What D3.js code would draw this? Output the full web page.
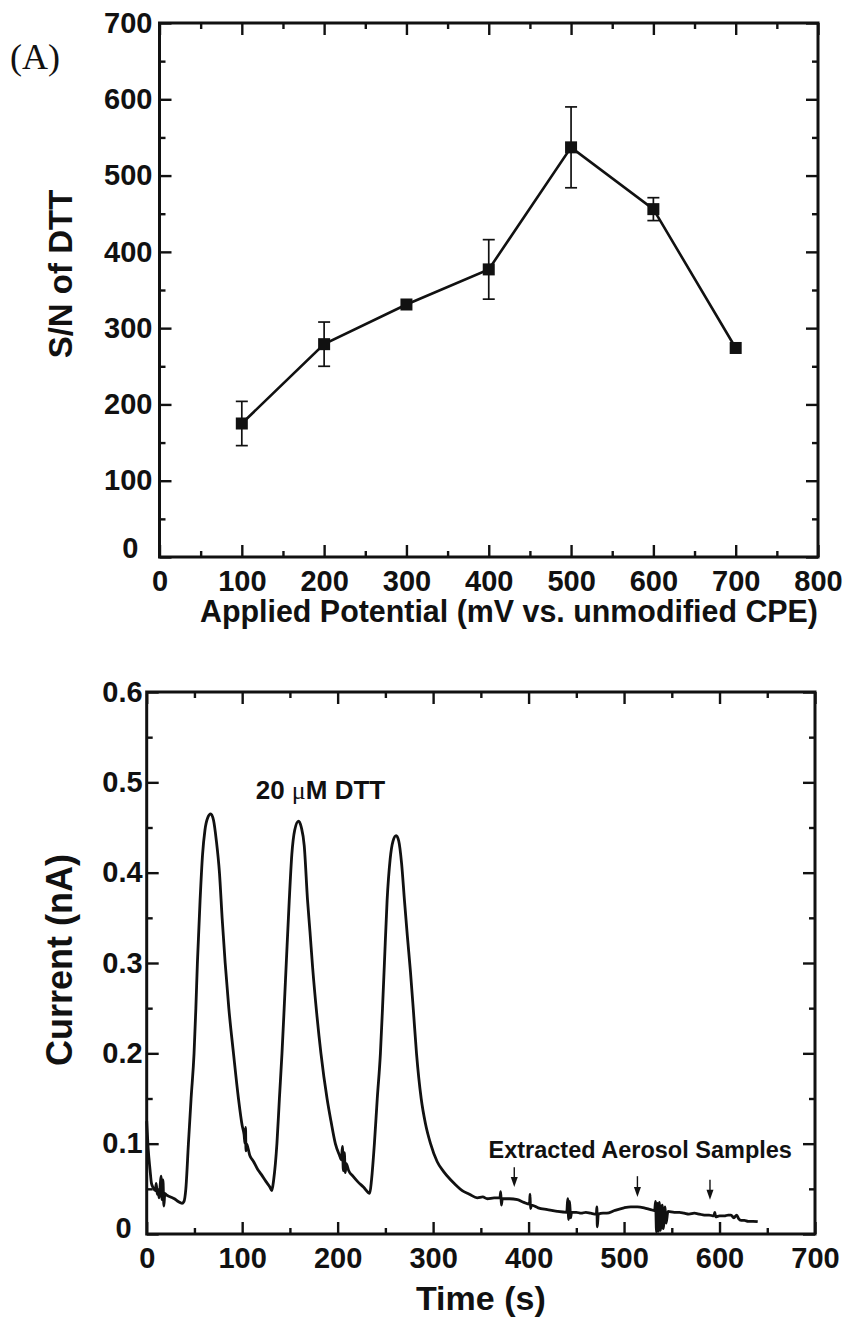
<!DOCTYPE html>
<html>
<head>
<meta charset="utf-8">
<script src="https://cdn.jsdelivr.net/npm/d3@7"></script>
<style>
  body { margin: 0; background: #fff; }
  svg text { font-family: "Liberation Sans", Arial, sans-serif; font-weight: bold; fill: #111; }
  .tick text { font-size: 29px; }
  .tick line { stroke: #111; stroke-width: 2.4px; }
</style>
</head>
<body>
<svg id="chart" width="848" height="1320"></svg>
<script>
// ---- panel A: S/N vs applied potential
const potentials = [100, 200, 300, 400, 500, 600, 700];
const snValues   = [175, 279, 331, 377, 537, 456, 274];
const snErrors   = [29, 29, 3, 39, 53, 15, 3];
const potentialTicks = [0, 100, 200, 300, 400, 500, 600, 700, 800];
const potentialMinor = [50, 150, 250, 350, 450, 550, 650, 750];
const snTicks = [0, 100, 200, 300, 400, 500, 600, 700];
const snMinor = [50, 150, 250, 350, 450, 550, 650];

// ---- panel B: amperometric trace (time s, current nA)
const trace = [
  [0, 0.125], [1.5, 0.095], [3.5, 0.071], [5, 0.056], [7, 0.051], [9, 0.048],
  [10, 0.056], [11, 0.044], [12, 0.049], [13, 0.040], [14, 0.052], [15, 0.064],
  [16, 0.038], [17, 0.060], [18, 0.031], [19, 0.045], [21, 0.043], [25, 0.041],
  [29, 0.039], [33, 0.036], [37, 0.034], [39, 0.036], [41, 0.050], [43.7, 0.10],
  [46.5, 0.15], [49.6, 0.20], [51.5, 0.25], [53.1, 0.30], [55.9, 0.369], [58.5, 0.42],
  [61, 0.447], [64, 0.461], [67, 0.465], [70, 0.458], [73, 0.435], [76.2, 0.40],
  [79, 0.35], [82.2, 0.30], [86, 0.25], [90.9, 0.20], [96.1, 0.15], [100, 0.12],
  [102, 0.11], [103, 0.10], [103.5, 0.118], [104, 0.092], [104.5, 0.10], [108, 0.087],
  [112, 0.080], [116, 0.072], [120, 0.066], [125, 0.058], [129, 0.052], [131, 0.048],
  [133, 0.060], [136.4, 0.10], [139, 0.15], [141.7, 0.20], [144, 0.25], [146.2, 0.30],
  [149.3, 0.369], [152, 0.42], [155, 0.447], [159, 0.457], [162, 0.45], [165, 0.43],
  [168.5, 0.369], [171, 0.335], [173.8, 0.295], [178, 0.245], [182.5, 0.20], [188.9, 0.15],
  [193, 0.125], [197.6, 0.10], [202, 0.087], [204, 0.082], [205, 0.097], [206, 0.070],
  [207, 0.090], [208, 0.068], [209, 0.078], [211.6, 0.070], [216, 0.064], [221, 0.058],
  [227, 0.052], [233.6, 0.045], [235.5, 0.060], [238.5, 0.10], [241.5, 0.15], [244.8, 0.20],
  [247, 0.25], [249, 0.30], [251.8, 0.369], [255, 0.415], [258, 0.435], [261.3, 0.441],
  [264, 0.435], [267, 0.41], [270, 0.369], [273, 0.33], [276.3, 0.29], [279.5, 0.245],
  [282.6, 0.20], [287.5, 0.15], [292, 0.122], [297.3, 0.10], [304.3, 0.080], [311, 0.069],
  [318.3, 0.060], [324, 0.054], [330.5, 0.048], [338, 0.044], [346.3, 0.040], [352, 0.041],
  [356.8, 0.039], [364, 0.040], [370, 0.040], [370.8, 0.047], [371.5, 0.032], [372.5, 0.039],
  [380, 0.039], [388.3, 0.038], [395, 0.035], [401, 0.033], [401.5, 0.044], [402, 0.028],
  [403, 0.032], [410, 0.029], [419.7, 0.027], [430, 0.025], [440, 0.024], [441, 0.039],
  [442, 0.016], [443, 0.036], [444, 0.018], [445, 0.024], [450, 0.024], [455, 0.023],
  [460, 0.024], [465, 0.023], [471, 0.022], [471.5, 0.030], [472, 0.008], [473, 0.022],
  [478, 0.023], [482, 0.023], [490, 0.026], [500, 0.029], [507, 0.030], [514, 0.030],
  [521, 0.029], [528, 0.027], [532, 0.026], [533, 0.036], [534, 0.002], [535, 0.034],
  [536, 0.003], [537, 0.035], [538, 0.004], [540, 0.032], [541, 0.006], [543, 0.030],
  [544, 0.012], [546, 0.025], [552.6, 0.024], [558, 0.024], [563, 0.023], [568, 0.022],
  [573.6, 0.023], [579, 0.022], [584, 0.021], [589, 0.021], [594, 0.020], [595, 0.024],
  [596, 0.019], [600, 0.020], [605, 0.020], [609, 0.021], [612, 0.021], [615, 0.018],
  [618, 0.021], [620, 0.017], [622.6, 0.015], [626, 0.015], [630, 0.014], [635, 0.014],
  [640, 0.0136]
];
const timeTicks = [0, 100, 200, 300, 400, 500, 600, 700];
const timeMinor = [50, 150, 250, 350, 450, 550, 650];
const currentTicks = [0, 0.1, 0.2, 0.3, 0.4, 0.5, 0.6];
const currentMinor = [0.05, 0.15, 0.25, 0.35, 0.45, 0.55];
// sample injection arrows: time, arrow top, arrow tip
const sampleTimes  = [385, 514, 590];
const arrowTops    = [0.074, 0.064, 0.060];
const arrowTips    = [0.052, 0.041, 0.038];

const svg = d3.select("#chart");

// boxed frame with inward ticks on all four sides
function drawFrame(g, x, y, o) {
  const [x0, x1] = x.range();
  const [y0, y1] = y.range();
  const MAJ = 12, MIN = 6;
  const add = (axis, tr) => g.append("g")
    .attr("transform", tr)
    .call(axis)
    .call(s => s.select(".domain").remove());

  const bx = add(d3.axisBottom(x).tickValues(o.xMajor).tickSize(-MAJ).tickSizeOuter(0)
    .tickPadding(o.xPad).tickFormat(o.xFmt), `translate(0,${y0})`);
  add(d3.axisBottom(x).tickValues(o.xMinor).tickSize(-MIN).tickSizeOuter(0).tickFormat(""), `translate(0,${y0})`);
  add(d3.axisTop(x).tickValues(o.xMajor).tickSize(-MAJ).tickSizeOuter(0).tickFormat(""), `translate(0,${y1})`);
  add(d3.axisTop(x).tickValues(o.xMinor).tickSize(-MIN).tickSizeOuter(0).tickFormat(""), `translate(0,${y1})`);

  const ly = add(d3.axisLeft(y).tickValues(o.yMajor).tickSize(-MAJ).tickSizeOuter(0)
    .tickPadding(o.yPad).tickFormat(o.yFmt), `translate(${x0},0)`);
  add(d3.axisLeft(y).tickValues(o.yMinor).tickSize(-MIN).tickSizeOuter(0).tickFormat(""), `translate(${x0},0)`);
  add(d3.axisRight(y).tickValues(o.yMajor).tickSize(-MAJ).tickSizeOuter(0).tickFormat(""), `translate(${x1},0)`);
  add(d3.axisRight(y).tickValues(o.yMinor).tickSize(-MIN).tickSizeOuter(0).tickFormat(""), `translate(${x1},0)`);

  // the zero label on the y axis sits higher and further left
  ly.selectAll(".tick").filter(d => d === 0).select("text")
    .attr("y", o.zeroLift[1]).attr("x", -o.yPad + o.zeroLift[0]);

  g.append("rect")
    .attr("x", x0).attr("y", y1)
    .attr("width", x1 - x0).attr("height", y0 - y1)
    .attr("fill", "none").attr("stroke", "#111").attr("stroke-width", 3);
  return { bx, ly };
}

// ================= panel A =================
const xA = d3.scaleLinear().domain([0, 800]).range([159.5, 818]);
const yA = d3.scaleLinear().domain([0, 700]).range([557, 23]);
const gA = svg.append("g");

drawFrame(gA, xA, yA, {
  xMajor: potentialTicks, xMinor: potentialMinor, xFmt: d3.format("d"), xPad: 13,
  yMajor: snTicks, yMinor: snMinor, yFmt: d3.format("d"), yPad: 7, zeroLift: [-14, -9]
});

const ptsA = potentials.map((p, i) => ({ p, v: snValues[i], e: snErrors[i] }));

gA.append("path")
  .datum(ptsA)
  .attr("fill", "none").attr("stroke", "#111").attr("stroke-width", 2.6)
  .attr("d", d3.line().x(d => xA(d.p)).y(d => yA(d.v)));

const eb = gA.append("g").attr("stroke", "#111").attr("stroke-width", 1.7);
eb.selectAll("line.v").data(ptsA).join("line").attr("class", "v")
  .attr("x1", d => xA(d.p)).attr("x2", d => xA(d.p))
  .attr("y1", d => yA(d.v + d.e)).attr("y2", d => yA(d.v - d.e));
eb.selectAll("line.t").data(ptsA.filter(d => d.e > 5)).join("line").attr("class", "t")
  .attr("x1", d => xA(d.p) - 6).attr("x2", d => xA(d.p) + 6)
  .attr("y1", d => yA(d.v + d.e)).attr("y2", d => yA(d.v + d.e));
eb.selectAll("line.b").data(ptsA.filter(d => d.e > 5)).join("line").attr("class", "b")
  .attr("x1", d => xA(d.p) - 6).attr("x2", d => xA(d.p) + 6)
  .attr("y1", d => yA(d.v - d.e)).attr("y2", d => yA(d.v - d.e));

gA.selectAll("rect.pt").data(ptsA).join("rect").attr("class", "pt")
  .attr("x", d => xA(d.p) - 6).attr("y", d => yA(d.v) - 6)
  .attr("width", 12).attr("height", 12).attr("fill", "#111");

gA.append("text")
  .attr("transform", `translate(72,${(yA.range()[0] + yA.range()[1]) / 2 - 16}) rotate(-90)`)
  .attr("text-anchor", "middle").style("font-size", "33px")
  .text("S/N of DTT");

gA.append("text")
  .attr("x", 509).attr("y", 622)
  .attr("text-anchor", "middle").style("font-size", "31px")
  .attr("textLength", 618).attr("lengthAdjust", "spacingAndGlyphs")
  .text("Applied Potential (mV vs. unmodified CPE)");

gA.append("text")
  .attr("x", 10).attr("y", 69)
  .style("font-family", '"Liberation Serif", "Times New Roman", serif')
  .style("font-weight", "normal").style("font-size", "36px")
  .text("(A)");

// ================= panel B =================
const xB = d3.scaleLinear().domain([0, 700]).range([146.7, 815]);
const yB = d3.scaleLinear().domain([0, 0.6]).range([1234, 692]);
const gB = svg.append("g");

drawFrame(gB, xB, yB, {
  xMajor: timeTicks, xMinor: timeMinor, xFmt: d3.format("d"), xPad: 13,
  yMajor: currentTicks, yMinor: currentMinor,
  yFmt: d => d === 0 ? "0" : d3.format(".1f")(d), yPad: 4, zeroLift: [-11, -6]
});

gB.append("path")
  .datum(trace)
  .attr("fill", "none").attr("stroke", "#111").attr("stroke-width", 2.8)
  .attr("stroke-linejoin", "round")
  .attr("d", d3.line().curve(d3.curveMonotoneX).x(d => xB(d[0])).y(d => yB(d[1])));

const arrows = sampleTimes.map((t, i) => ({ t, top: arrowTops[i], tip: arrowTips[i] }));
gB.selectAll("line.arr").data(arrows).join("line").attr("class", "arr")
  .attr("x1", d => xB(d.t)).attr("x2", d => xB(d.t))
  .attr("y1", d => yB(d.top)).attr("y2", d => yB(d.tip) - 6)
  .attr("stroke", "#111").attr("stroke-width", 1.4);
gB.selectAll("path.head").data(arrows).join("path").attr("class", "head")
  .attr("d", d => {
    const x = xB(d.t), y = yB(d.tip);
    return `M${x - 3.5},${y - 10}L${x + 3.5},${y - 10}L${x},${y}Z`;
  })
  .attr("fill", "#111");

const dttLabel = gB.append("text")
  .attr("x", xB(182)).attr("y", yB(0.481))
  .attr("text-anchor", "middle").style("font-size", "26px");
dttLabel.append("tspan").text("20 ");
dttLabel.append("tspan")
  .style("font-family", '"Liberation Serif", "Times New Roman", serif')
  .style("font-weight", "normal").text("\u03bc");
dttLabel.append("tspan").text("M DTT");

gB.append("text")
  .attr("x", xB(358)).attr("y", yB(0.084))
  .style("font-size", "23.5px")
  .text("Extracted Aerosol Samples");

gB.append("text")
  .attr("transform", `translate(72,${(yB.range()[0] + yB.range()[1]) / 2 - 3}) rotate(-90)`)
  .attr("text-anchor", "middle").style("font-size", "36px")
  .text("Current (nA)");

gB.append("text")
  .attr("x", (xB.range()[0] + xB.range()[1]) / 2).attr("y", 1310)
  .attr("text-anchor", "middle").style("font-size", "34px")
  .text("Time (s)");
</script>
</body>
</html>
